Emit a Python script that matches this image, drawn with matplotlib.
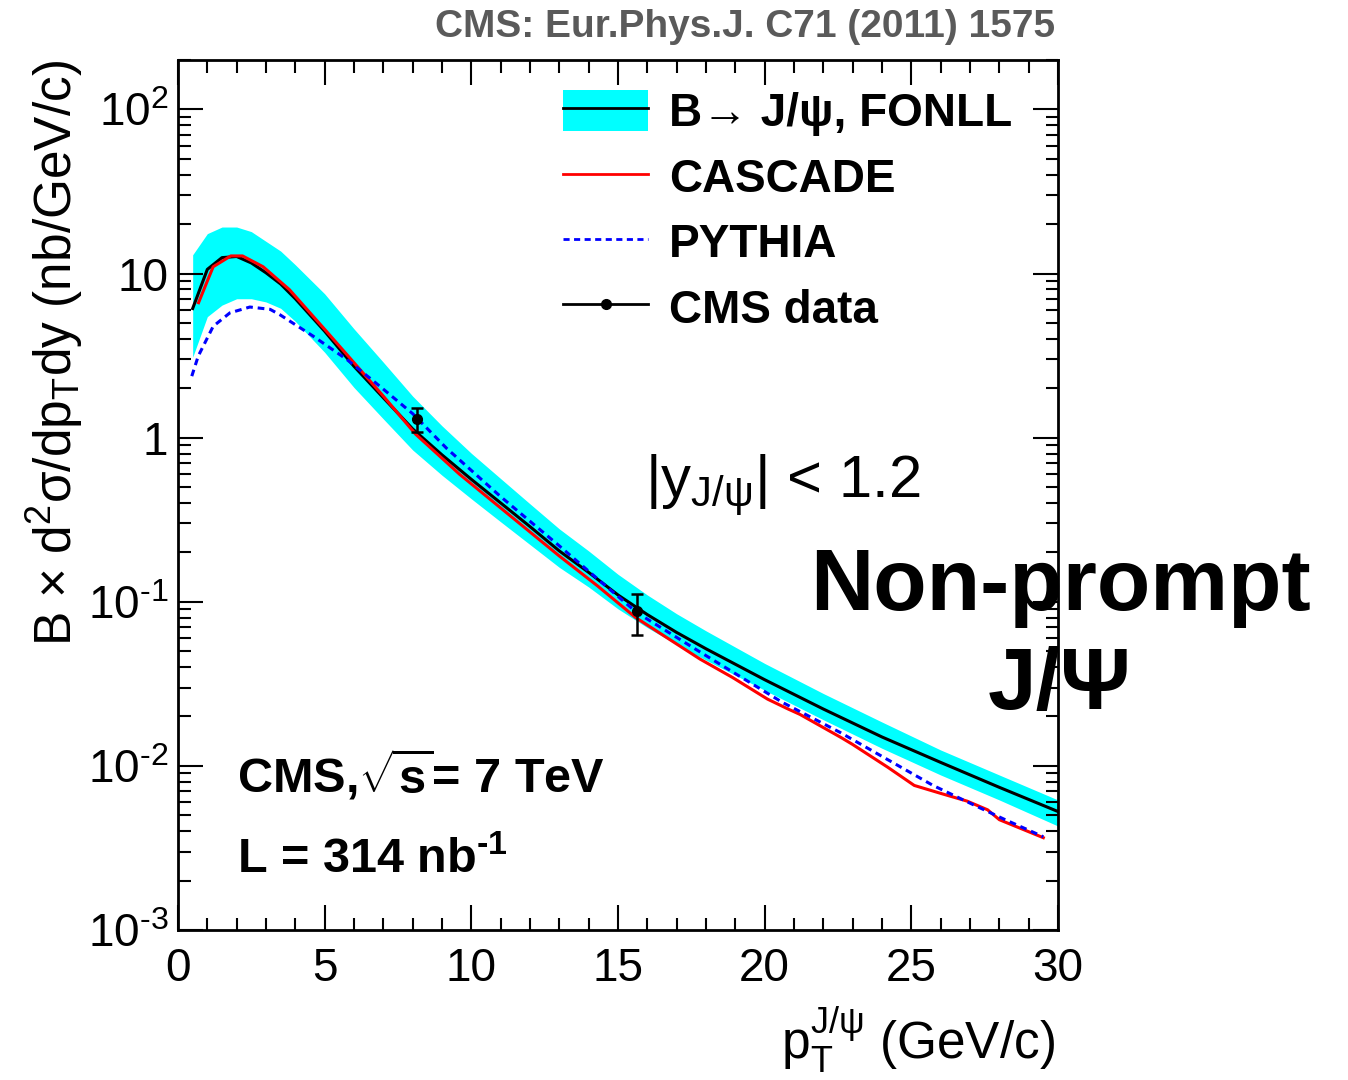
import numpy as np
import matplotlib
matplotlib.use('Agg')
import matplotlib.pyplot as plt
from matplotlib.lines import Line2D
from matplotlib.patches import Patch
from matplotlib.legend_handler import HandlerTuple
from matplotlib.font_manager import FontProperties
from matplotlib.ticker import (FixedLocator, FixedFormatter, MultipleLocator,
                               LogLocator, NullFormatter)

plt.rcParams['font.family'] = ['Liberation Sans', 'DejaVu Sans']
plt.rcParams['mathtext.fontset'] = 'custom'
plt.rcParams['mathtext.rm'] = 'Liberation Sans'
plt.rcParams['mathtext.it'] = 'Liberation Sans:italic'
plt.rcParams['mathtext.bf'] = 'Liberation Sans:bold'

# FONLL B -> J/psi prediction (nb/GeV/c): central value and uncertainty band
pt_fonll = [0.5, 1, 1.5, 2, 2.5, 3, 3.5, 4, 5, 6, 7, 8, 9, 10, 11, 12, 13, 14,
            15, 16, 17, 18, 20, 22, 24, 26, 28, 30]
fonll_central = [6.12, 10.6, 12.5, 12.7, 11.6, 10.1, 8.63, 7.02, 4.45, 2.72,
                 1.75, 1.13, 0.785, 0.557, 0.400, 0.287, 0.204, 0.151, 0.110,
                 0.0835, 0.0650, 0.0517, 0.0335, 0.0222, 0.0150, 0.0105,
                 0.0074, 0.00527]
fonll_upper = [13.0, 17.5, 19.2, 19.2, 18.0, 15.7, 13.7, 11.3, 7.52, 4.60,
               2.88, 1.79, 1.18, 0.803, 0.563, 0.395, 0.278, 0.204, 0.147,
               0.110, 0.0845, 0.0665, 0.0421, 0.0276, 0.0185, 0.0125,
               0.0088, 0.0062]
fonll_lower = [3.09, 5.46, 6.42, 7.02, 7.02, 6.71, 6.14, 5.11, 3.31, 2.02,
               1.30, 0.841, 0.590, 0.424, 0.307, 0.223, 0.162, 0.123, 0.0905,
               0.0696, 0.0548, 0.0441, 0.0289, 0.0191, 0.0128, 0.0088,
               0.0062, 0.0043]

# CASCADE prediction
pt_cascade = [0.7, 1.0, 1.2, 1.8, 2.2, 2.9, 3.8, 5.0, 6.1, 7.0, 8.1, 9.6,
              11.0, 13.0, 14.3, 15.6, 17.8, 18.9, 20.1, 20.8, 21.2, 22.6,
              23.0, 24.2, 25.1, 26.0, 26.9, 27.6, 28.0, 29.5]
cascade = [6.64, 9.0, 11.0, 12.8, 12.8, 11.0, 7.97, 4.57, 2.73, 1.79, 1.05,
           0.598, 0.373, 0.190, 0.125, 0.0802, 0.0447, 0.0346, 0.0255, 0.0222,
           0.0206, 0.0149, 0.0135, 0.0098, 0.0076, 0.0068, 0.0061, 0.0054,
           0.0047, 0.00365]

# PYTHIA prediction
pt_pythia = [0.47, 0.69, 1.2, 1.77, 2.45, 3.14, 3.48, 4.61, 5.75, 6.89, 8.0,
             9.16, 11.0, 13.0, 14.3, 15.64, 17.8, 19.2, 20.6, 22.57, 24.2,
             25.74, 27.2, 28.2, 29.5]
pythia = [2.37, 3.14, 4.77, 5.76, 6.25, 6.05, 5.6, 4.15, 3.0, 2.05, 1.4, 0.86,
          0.437, 0.219, 0.138, 0.086, 0.0494, 0.0347, 0.0244, 0.016, 0.0109,
          0.0076, 0.0057, 0.0047, 0.0037]

# CMS measurement
pt_data = [8.15, 15.64]
xsec_data = [1.29, 0.088]
err_up = [0.22, 0.023]
err_down = [0.20, 0.025]

ytick_vals = [1e-3, 1e-2, 1e-1, 1, 10, 100]
ytick_labels = [r'$\mathregular{10^{‐3}}$', r'$\mathregular{10^{‐2}}$',
                r'$\mathregular{10^{‐1}}$', '1', '10', r'$\mathregular{10^{2}}$']

W, H = 1348, 1080
fig = plt.figure(figsize=(W / 100, H / 100), dpi=100)
ax = fig.add_axes([178 / W, 1 - 930 / H, 880 / W, 870 / H])

ax.fill_between(pt_fonll, fonll_lower, fonll_upper, color='#00ffff', lw=0, zorder=1)
ax.plot(pt_fonll, fonll_central, color='black', lw=2.2, zorder=2)
ax.plot(pt_cascade, cascade, color='#ff0000', lw=2.2, zorder=3)
ax.plot(pt_pythia, pythia, color='#0000ff', lw=2.2, ls=(0, (2.2, 1.6)), zorder=4)
ax.errorbar(pt_data, xsec_data, yerr=[err_down, err_up], fmt='o', color='black',
            ms=7, capsize=4, elinewidth=1.8, capthick=1.8, zorder=5)

ax.set_yscale('log')
ax.set_xlim(0, 30)
ax.set_ylim(1e-3, 200)

ax.xaxis.set_major_locator(MultipleLocator(5))
ax.xaxis.set_minor_locator(MultipleLocator(1))
ax.yaxis.set_major_locator(FixedLocator(ytick_vals))
ax.yaxis.set_major_formatter(FixedFormatter(ytick_labels))
ax.yaxis.set_minor_locator(LogLocator(base=10, subs=np.arange(2, 10)))
ax.yaxis.set_minor_formatter(NullFormatter())
ax.tick_params(which='both', direction='in', top=True, right=True, width=1.5,
               labelsize=33)
ax.tick_params(which='major', length=18)
ax.tick_params(which='minor', length=9)
ax.tick_params(axis='x', pad=12)
ax.tick_params(axis='y', pad=7)
for side in ax.spines.values():
    side.set_linewidth(2.0)


def fpos(x, y):
    return x / W, 1 - y / H


fig.text(*fpos(1055, 27), 'CMS: Eur.Phys.J. C71 (2011) 1575', ha='right',
         va='center', fontsize=28, fontweight='bold', color='#5a5a5a')
fig.text(*fpos(55, 60), r'B × d$^{2}$σ/dp$_{\mathrm{T}}$dy (nb/GeV/c)',
         rotation=90, ha='center', va='top', fontsize=37)
fig.text(*fpos(1055, 1040), r'p$_{\mathrm{T}}^{\mathrm{J/ψ}}$ (GeV/c)',
         ha='right', va='center', fontsize=37)
fig.text(*fpos(645, 485), r'|y$_{\mathrm{J/ψ}}$| < 1.2', ha='left',
         va='center', fontsize=43)
fig.text(*fpos(237, 775), r'CMS,$\sqrt{\mathbf{s}}$= 7 TeV', ha='left',
         va='center', fontsize=35, fontweight='bold')
fig.text(*fpos(237, 860), r'L = 314 nb$^{\mathbf{‐1}}$', ha='left',
         va='center', fontsize=35, fontweight='bold')
fig.text(*fpos(1060, 637), 'Non-prompt\nJ/Ψ', ha='center', va='center',
         fontsize=63, fontweight='bold', linespacing=1.3)

handles = [
    (Patch(facecolor='#00ffff', edgecolor='none'), Line2D([], [], color='black', lw=2)),
    Line2D([], [], color='#ff0000', lw=2),
    Line2D([], [], color='#0000ff', lw=2, ls=(0, (2.2, 1.6))),
    Line2D([], [], color='black', lw=2, marker='o', ms=7),
]
labels = ['B→ J/ψ, FONLL', 'CASCADE', 'PYTHIA', 'CMS data']
ax.legend(handles, labels, loc='upper left', bbox_to_anchor=fpos(563, 90),
          bbox_transform=fig.transFigure, frameon=False,
          prop=FontProperties(family=['Liberation Sans', 'DejaVu Sans'],
                              weight='bold', size=33),
          handlelength=1.86, handleheight=1.0, handletextpad=0.45,
          labelspacing=0.42, borderpad=0, borderaxespad=0, numpoints=1,
          handler_map={tuple: HandlerTuple(ndivide=1)})

fig.savefig('out.png', dpi=100)
